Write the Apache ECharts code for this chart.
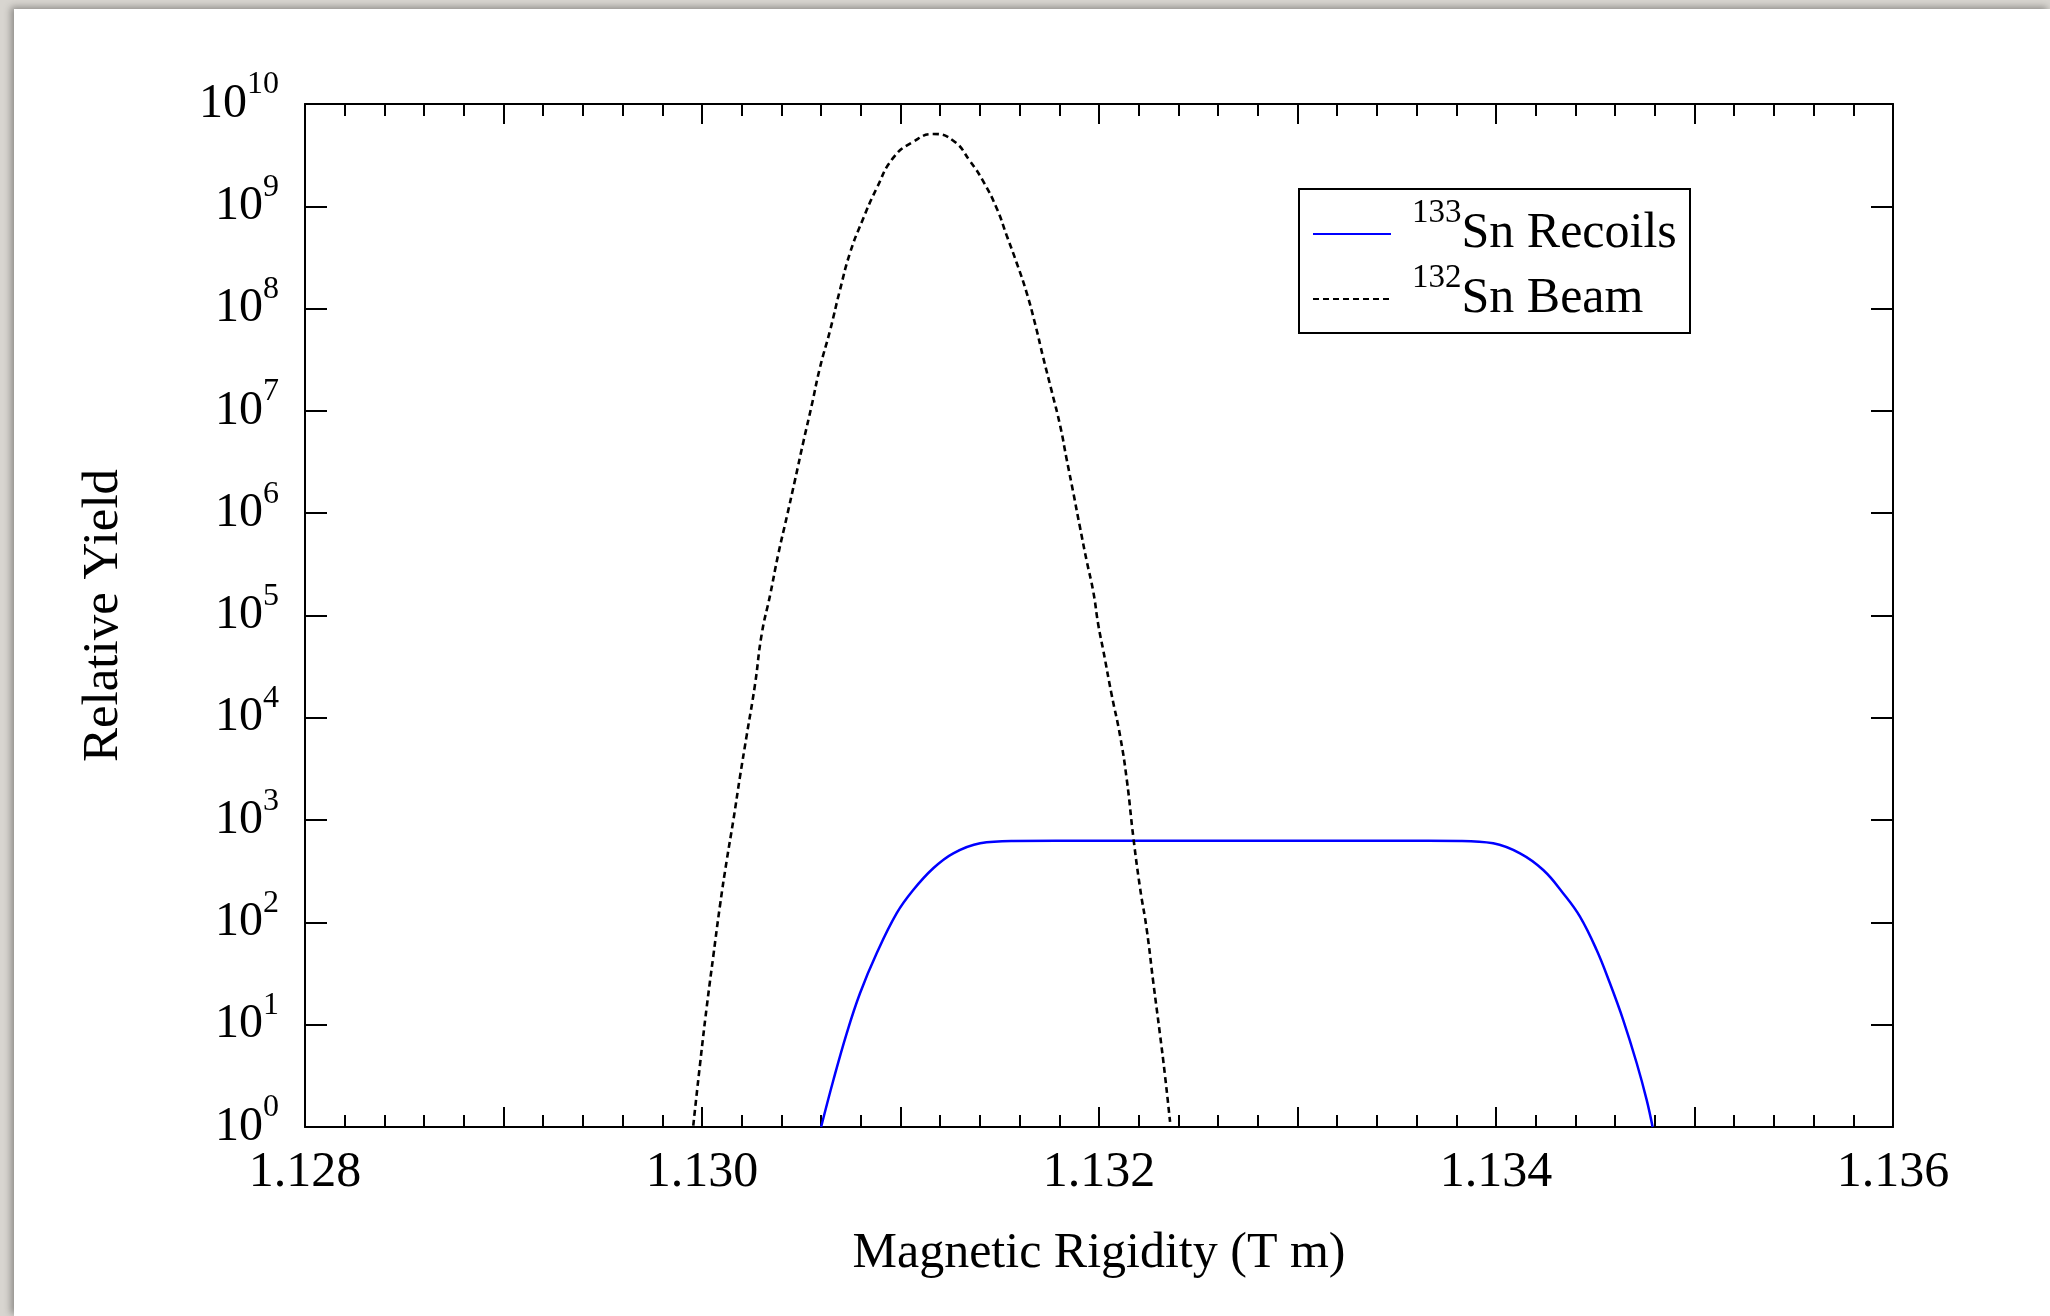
<!DOCTYPE html>
<html>
<head>
<meta charset="utf-8">
<script src="https://cdn.jsdelivr.net/npm/echarts@6/dist/echarts.min.js"></script>
<style>
  html, body { margin: 0; padding: 0; }
  body { width: 2050px; height: 1316px; background: #d8d5d0; overflow: hidden; position: relative; }
  #card { position: absolute; left: 14px; top: 9px; width: 2036px; height: 1307px; background: #fff;
          box-shadow: -3px -2px 7px rgba(0,0,0,0.35); }
  #chart { width: 2036px; height: 1307px; }
</style>
</head>
<body>
<div id="card"><div id="chart"></div></div>
<script>
// magnetic rigidity (T m) and relative yield
var beamX = [1.129956, 1.129990, 1.130024, 1.130057, 1.130091, 1.130124, 1.130158, 1.130191, 1.130225,
  1.130267, 1.130301, 1.130343, 1.130384, 1.130427, 1.130469, 1.130510, 1.130553, 1.130594, 1.130645,
  1.130695, 1.130746, 1.130805, 1.130880, 1.130964, 1.131064, 1.131165, 1.131266, 1.131350, 1.131417,
  1.131485, 1.131535, 1.131585, 1.131636, 1.131678, 1.131719, 1.131762, 1.131804, 1.131837, 1.131871,
  1.131904, 1.131938, 1.131971, 1.131997, 1.132022, 1.132064, 1.132106, 1.132140, 1.132173, 1.132207,
  1.132240, 1.132274, 1.132307, 1.132332, 1.132358];
var beamY = [1.03, 4.1, 15.0, 46.9, 148, 397, 1000, 2630, 6700,
  2.11e4, 6.61e4, 1.58e5, 3.96e5, 9.18e5, 2.13e6, 4.92e6, 1.14e7, 2.64e7, 6.10e7,
  1.52e8, 3.52e8, 7.03e8, 1.50e9, 2.99e9, 4.27e9, 5.09e9, 4.38e9, 2.77e9, 1.75e9,
  9.53e8, 5.18e8, 2.81e8, 1.42e8, 7.11e7, 3.32e7, 1.55e7, 7.21e6, 3.37e6, 1.57e6,
  7.31e5, 3.41e5, 1.72e5, 7.98e4, 4.51e4, 1.67e4, 6700, 2480, 679, 216,
  86.5, 25.5, 8.11, 3.25, 1.12];

var recoilX = [1.130600, 1.130662, 1.130729, 1.130796, 1.130880, 1.130981, 1.131064, 1.131165, 1.131266,
  1.131401, 1.131568, 1.132000, 1.132500, 1.133000, 1.133500, 1.133819, 1.133986, 1.134121, 1.134238,
  1.134339, 1.134423, 1.134507, 1.134574, 1.134641, 1.134709, 1.134759, 1.134789];
var recoilY = [1.0, 2.88, 8.24, 20.3, 49.9, 123, 207, 338, 473,
  593, 625, 628, 628, 628, 628, 626, 593, 473, 325,
  192, 114, 53.7, 25.4, 11.1, 4.20, 1.84, 1.0];

var seriesNames = ['Sn Recoils', 'Sn Beam'];
var massNumbers = ['133', '132'];

var xMin = 1.128, xMax = 1.136, xStep = 0.001;
var yMin = 1, yMax = 1e10;

function pairs(xs, ys) {
  return xs.map(function (x, i) { return [x, ys[i]]; });
}

var serif = 'Liberation Serif';

var myChart = echarts.init(document.getElementById('chart'));

var tickStyle = { color: '#000', width: 2 };

var option = {
  backgroundColor: '#fff',
  animation: false,
  textStyle: { fontFamily: serif, color: '#000' },
  grid: { left: 291, top: 95, width: 1588, height: 1023, containLabel: false },
  // legend frame
  graphic: [{
    type: 'rect',
    left: 1284,
    top: 179,
    z: 3,
    shape: { width: 391, height: 144 },
    style: { fill: '#fff', stroke: '#000', lineWidth: 2 }
  }],
  legend: {
    orient: 'vertical',
    left: 1298,
    top: 188,
    z: 10,
    data: seriesNames,
    itemWidth: 78,
    itemHeight: 14,
    itemGap: 3,
    padding: 0,
    borderWidth: 0,
    itemStyle: { color: 'rgba(0,0,0,0)', borderWidth: 0, opacity: 0 },
    formatter: function (name) {
      return '{s|' + massNumbers[seriesNames.indexOf(name)] + '}{b|' + name + '}';
    },
    textStyle: {
      fontFamily: serif,
      color: '#000',
      rich: {
        b: { fontFamily: serif, fontSize: 50, lineHeight: 74, color: '#000' },
        s: { fontFamily: serif, fontSize: 33, verticalAlign: 'top', color: '#000', padding: [0, 0, 0, 16] }
      }
    }
  },
  xAxis: [{
    type: 'value',
    position: 'bottom',
    min: xMin,
    max: xMax,
    interval: xStep,
    name: 'Magnetic Rigidity (T m)',
    nameLocation: 'middle',
    nameGap: 102,
    nameTextStyle: { fontFamily: serif, fontSize: 50, color: '#000' },
    axisLine: { show: true, onZero: false, lineStyle: tickStyle },
    axisTick: { show: true, inside: true, length: 20, lineStyle: tickStyle },
    minorTick: { show: true, splitNumber: 5, length: 12, lineStyle: tickStyle },
    splitLine: { show: false },
    axisLabel: {
      margin: 21,
      fontFamily: serif,
      fontSize: 50,
      color: '#000',
      formatter: function (v) {
        return Math.round(v * 1000) % 2 === 0 ? v.toFixed(3) : '';
      }
    }
  }, {
    type: 'value',
    position: 'top',
    min: xMin,
    max: xMax,
    interval: xStep,
    axisLine: { show: true, onZero: false, lineStyle: tickStyle },
    axisTick: { show: true, inside: true, length: 20, lineStyle: tickStyle },
    minorTick: { show: true, splitNumber: 5, length: 12, lineStyle: tickStyle },
    splitLine: { show: false },
    axisLabel: { show: false }
  }],
  yAxis: [{
    type: 'log',
    logBase: 10,
    position: 'left',
    min: yMin,
    max: yMax,
    interval: 1,
    name: 'Relative Yield',
    nameLocation: 'middle',
    nameGap: 176,
    nameTextStyle: { fontFamily: serif, fontSize: 51, color: '#000' },
    axisLine: { show: true, onZero: false, lineStyle: tickStyle },
    axisTick: { show: true, inside: true, length: 22, lineStyle: tickStyle },
    splitLine: { show: false },
    axisLabel: {
      margin: 26,
      formatter: function (v) {
        return '{b|10}{s|' + Math.round(Math.log10(v)) + '}';
      },
      rich: {
        b: { fontFamily: serif, fontSize: 48, lineHeight: 70, color: '#000' },
        s: { fontFamily: serif, fontSize: 32, verticalAlign: 'top', color: '#000' }
      }
    }
  }, {
    type: 'log',
    logBase: 10,
    position: 'right',
    min: yMin,
    max: yMax,
    interval: 1,
    axisLine: { show: true, onZero: false, lineStyle: tickStyle },
    axisTick: { show: true, inside: true, length: 22, lineStyle: tickStyle },
    splitLine: { show: false },
    axisLabel: { show: false }
  }],
  series: [{
    name: seriesNames[0],
    type: 'line',
    xAxisIndex: 0,
    yAxisIndex: 0,
    data: pairs(recoilX, recoilY),
    showSymbol: false,
    symbol: 'none',
    smooth: 0.4,
    color: '#0000ff',
    lineStyle: { color: '#0000ff', width: 2.5 }
  }, {
    name: seriesNames[1],
    type: 'line',
    xAxisIndex: 0,
    yAxisIndex: 0,
    data: pairs(beamX, beamY),
    showSymbol: false,
    symbol: 'none',
    smooth: 0.5,
    color: '#000',
    lineStyle: { color: '#000', width: 2.6, type: [6, 4] }
  }]
};

myChart.setOption(option);
</script>
</body>
</html>
